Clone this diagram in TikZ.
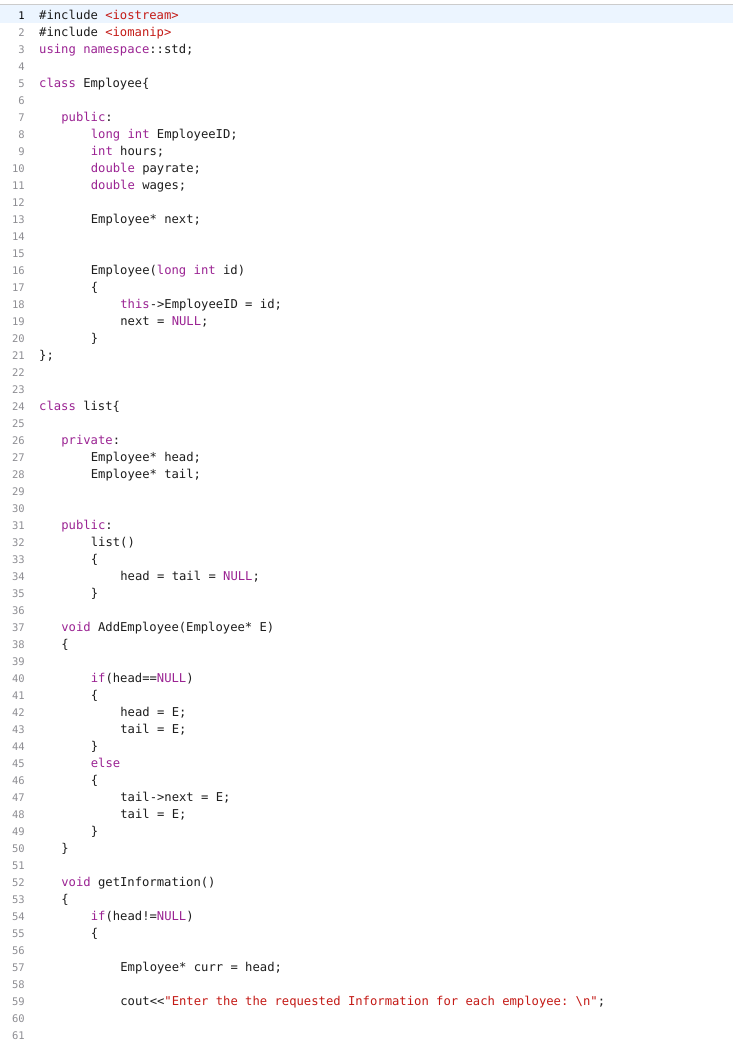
\documentclass[tikz,border=0pt]{standalone}
\usepackage{fontspec}
\setmonofont[Ligatures=NoCommon]{DejaVu Sans Mono}
\definecolor{kw}{HTML}{9B2393}
\definecolor{st}{HTML}{C41A16}
\definecolor{ln}{HTML}{8E8E93}
\definecolor{txt}{HTML}{1D1D1D}
\definecolor{hl}{HTML}{ECF5FF}
\newcommand{\kw}[1]{\textcolor{kw}{#1}}
\newcommand{\st}[1]{\textcolor{st}{#1}}
\tikzset{codeline/.style={anchor=base west,inner sep=0pt,font=\ttfamily\fontsize{12.2}{14}\selectfont,text=txt},
 lnum/.style={anchor=base east,inner sep=0pt,font=\ttfamily\fontsize{10.5}{12}\selectfont,text=ln}}
\newcommand{\cl}[3]{%
 \node[lnum] (n#1) at (25,{15+17*(#1-1)+4}) {#1};
 \node[codeline] (c#1) at ({39+7.38*#2},{15+17*(#1-1)+4}) {#3};}
\newcommand{\el}[1]{\node[lnum] (n#1) at (25,{15+17*(#1-1)+4}) {#1};}
\begin{document}
\begin{tikzpicture}[x=1pt,y=-1pt]
\useasboundingbox[fill=white] (0,0) rectangle (733,1045);
\fill[hl] (0,5) rectangle (733,23);
\draw[gray!40] (0,4.5) -- (733,4.5);
\node[lnum,text=black] (n1) at (25,19) {1};
\node[codeline] (c1) at (39,19) {\#include \st{<iostream>}};
\cl{2}{0}{\#include \st{<iomanip>}}
\cl{3}{0}{\kw{using namespace}::std;}
\el{4}
\cl{5}{0}{\kw{class} Employee\{}
\el{6}
\cl{7}{3}{\kw{public}:}
\cl{8}{7}{\kw{long int} EmployeeID;}
\cl{9}{7}{\kw{int} hours;}
\cl{10}{7}{\kw{double} payrate;}
\cl{11}{7}{\kw{double} wages;}
\el{12}
\cl{13}{7}{Employee* next;}
\el{14}
\el{15}
\cl{16}{7}{Employee(\kw{long int} id)}
\cl{17}{7}{\{}
\cl{18}{11}{\kw{this}->EmployeeID = id;}
\cl{19}{11}{next = \kw{NULL};}
\cl{20}{7}{\}}
\cl{21}{0}{\};}
\el{22}
\el{23}
\cl{24}{0}{\kw{class} list\{}
\el{25}
\cl{26}{3}{\kw{private}:}
\cl{27}{7}{Employee* head;}
\cl{28}{7}{Employee* tail;}
\el{29}
\el{30}
\cl{31}{3}{\kw{public}:}
\cl{32}{7}{list()}
\cl{33}{7}{\{}
\cl{34}{11}{head = tail = \kw{NULL};}
\cl{35}{7}{\}}
\el{36}
\cl{37}{3}{\kw{void} AddEmployee(Employee* E)}
\cl{38}{3}{\{}
\el{39}
\cl{40}{7}{\kw{if}(head==\kw{NULL})}
\cl{41}{7}{\{}
\cl{42}{11}{head = E;}
\cl{43}{11}{tail = E;}
\cl{44}{7}{\}}
\cl{45}{7}{\kw{else}}
\cl{46}{7}{\{}
\cl{47}{11}{tail->next = E;}
\cl{48}{11}{tail = E;}
\cl{49}{7}{\}}
\cl{50}{3}{\}}
\el{51}
\cl{52}{3}{\kw{void} getInformation()}
\cl{53}{3}{\{}
\cl{54}{7}{\kw{if}(head!=\kw{NULL})}
\cl{55}{7}{\{}
\el{56}
\cl{57}{11}{Employee* curr = head;}
\el{58}
\cl{59}{11}{cout{<}{<}\st{"Enter the the requested Information for each employee: \textbackslash n"};}
\el{60}
\el{61}
\end{tikzpicture}
\end{document}
